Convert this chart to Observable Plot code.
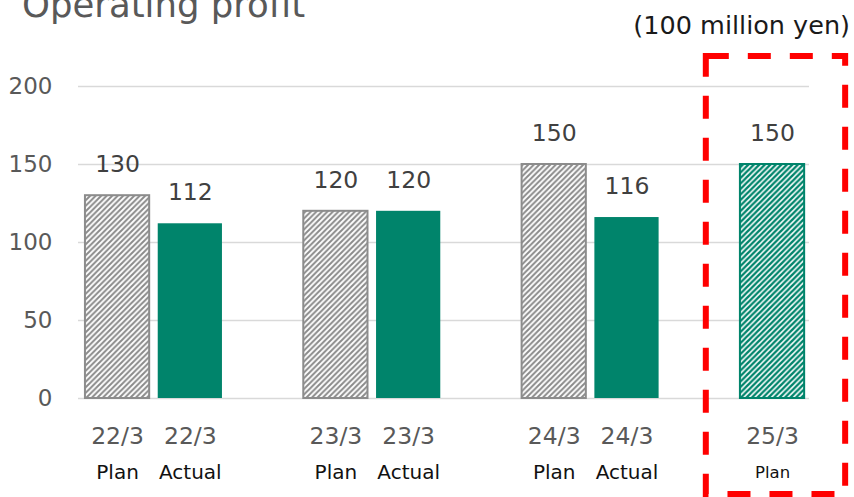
<!DOCTYPE html>
<html>
<head>
<meta charset="utf-8">
<script src="https://cdn.jsdelivr.net/npm/d3@7"></script>
<script src="https://cdn.jsdelivr.net/npm/@observablehq/plot@0.6"></script>
<style>
  html, body { margin: 0; padding: 0; background: #fff; }
  #wrap { position: relative; width: 854px; height: 497px; overflow: hidden; font-family: "DejaVu Sans", Verdana, sans-serif; }
  #wrap svg { position: absolute; left: 0; top: 0; }
  #title { position: absolute; left: 22px; top: -13px; font-size: 35.5px; line-height: 35px; color: #595959; white-space: nowrap; }
  #unit { position: absolute; right: 4px; top: 13px; font-size: 25.5px; line-height: 25px; color: #1a1a1a; white-space: nowrap; }
</style>
</head>
<body>
<div id="wrap">
  <div id="title">Operating profit</div>
  <div id="unit">(100 million yen)</div>
</div>
<script>
// ---- data ----
const periods = ["22/3", "22/3", "23/3", "23/3", "24/3", "24/3", "25/3"];
const kinds = ["Plan", "Actual", "Plan", "Actual", "Plan", "Actual", "Plan"];
const values = [130, 112, 120, 120, 150, 116, 150];
const yTicks = [0, 50, 100, 150, 200];

const green = "#00846b";
const data = periods.map((p, i) => ({
  key: p + " " + kinds[i],
  period: p,
  kind: kinds[i],
  value: values[i],
  last: i === periods.length - 1
}));
// slot domain with spacers between fiscal years
const domain = [];
data.forEach((d, i) => {
  if (i > 0 && d.period !== data[i - 1].period && d.kind === "Plan") domain.push("gap" + i);
  domain.push(d.key);
});

const fillFor = d => d.last ? "url(#hatchGreen)" : (d.kind === "Plan" ? "url(#hatchGray)" : green);
const strokeFor = d => d.last ? green : (d.kind === "Plan" ? "#8c8c8c" : "none");

const chart = Plot.plot({
  width: 854,
  height: 497,
  marginTop: 86,
  marginBottom: 99,
  marginLeft: 78,
  marginRight: 45,
  style: { fontFamily: "DejaVu Sans, Verdana, sans-serif", color: "#595959", background: "transparent" },
  x: { type: "band", domain, padding: 0.09, range: [77.4, 811.7], round: false, axis: null },
  y: { domain: [0, 200], axis: null },
  marks: [
    Plot.ruleY(yTicks, { stroke: "#d9d9d9", strokeWidth: 1.5 }),
    Plot.axisY(yTicks, { label: null, tickSize: 0, tickPadding: 26, fontSize: 23, fill: "#595959" }),
    Plot.barY(data, { x: "key", y: "value", fill: fillFor, stroke: strokeFor, strokeWidth: 2, insetLeft: 1, insetRight: 1 }),
    Plot.text(data, { x: "key", y: "value", text: d => String(d.value), dy: -31, fontSize: 23.5, fill: "#404040" }),
    Plot.text(data, { x: "key", y: () => 0, text: "period", dy: 38, fontSize: 23.5, fill: "#595959" }),
    Plot.text(data, { x: "key", y: () => 0, text: "kind", dy: 74, fontSize: d => d.last ? 16.5 : 20, fill: "#111111" })
  ]
});

// hatch patterns
const svgNS = "http://www.w3.org/2000/svg";
const defs = document.createElementNS(svgNS, "defs");
defs.innerHTML = `
  <pattern id="hatchGray" patternUnits="userSpaceOnUse" width="5.5" height="5.5">
    <rect width="5.5" height="5.5" fill="#ffffff"/>
    <path d="M-1,1 l2,-2 M0,5.5 l5.5,-5.5 M4.5,6.5 l2,-2" stroke="#8a8a8a" stroke-width="2"/>
  </pattern>
  <pattern id="hatchGreen" patternUnits="userSpaceOnUse" width="5.5" height="5.5">
    <rect width="5.5" height="5.5" fill="#ffffff"/>
    <path d="M-1,1 l2,-2 M0,5.5 l5.5,-5.5 M4.5,6.5 l2,-2" stroke="${green}" stroke-width="2.4"/>
  </pattern>`;
chart.insertBefore(defs, chart.firstChild);

// red dashed highlight around the latest plan, positioned from the scales
const xs = chart.scale("x");
const ys = chart.scale("y");
const lastKey = data[data.length - 1].key;
const bx0 = xs.apply(lastKey);
const bw = xs.bandwidth;
const box = document.createElementNS(svgNS, "rect");
const boxLeft = bx0 - bw / 2;
const boxRight = bx0 + bw + 40;
const boxTop = ys.apply(200) - 30;
box.setAttribute("x", boxLeft);
box.setAttribute("y", boxTop);
box.setAttribute("width", boxRight - boxLeft);
box.setAttribute("height", 494 - boxTop);
box.setAttribute("fill", "none");
box.setAttribute("stroke", "#ff0000");
box.setAttribute("stroke-width", 6);
box.setAttribute("stroke-dasharray", "23,19");
chart.appendChild(box);

document.getElementById("wrap").prepend(chart);
</script>
</body>
</html>
